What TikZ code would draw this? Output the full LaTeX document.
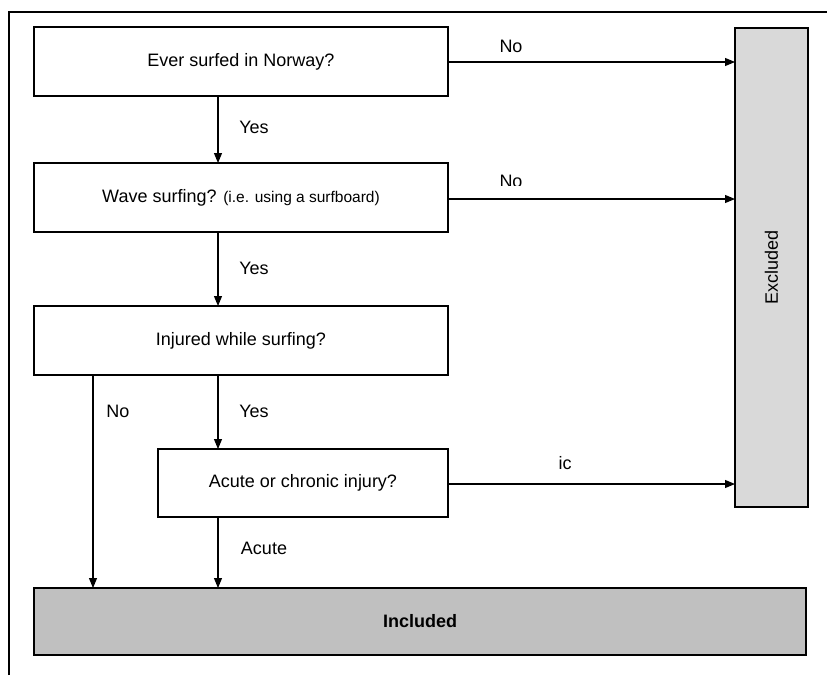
\documentclass[tikz,border=0pt]{standalone}
\usepackage{fontspec}
\setmainfont{Liberation Sans}
\usepackage{tikz}
\usetikzlibrary{arrows.meta}
\pgfdeclarelayer{edgelayer}
\pgfdeclarelayer{nodelayer}
\pgfsetlayers{edgelayer,nodelayer,main}
\definecolor{exgray}{HTML}{D9D9D9}
\definecolor{ingray}{HTML}{C0C0C0}
\tikzstyle{none}=[inner sep=0pt]
\tikzstyle{question}=[rectangle,fill=white,draw=black,line width=1.3,minimum width=414pt,minimum height=69pt,font=\fontsize{18}{21}\selectfont]
\tikzstyle{outcome}=[rectangle,draw=black,line width=1.3,font=\fontsize{18}{21}\selectfont]
\tikzstyle{lbl}=[inner sep=0pt,font=\fontsize{18}{21}\selectfont]
\tikzstyle{inarrow}=[-{Triangle[length=10pt,width=8pt]},line width=1.1]
\tikzstyle{frame}=[-,line width=1.2]

\begin{document}
\begin{tikzpicture}[x=1pt,y=-1pt]
	\useasboundingbox (0,0) rectangle (827,675);
	\begin{pgfonlayer}{nodelayer}
		\node [style=question] (q1) at (241, 61.5) {Ever surfed in Norway?};
		\node [style=question] (q2) at (241, 197.5) {Wave surfing? {\fontsize{15.5}{18}\selectfont(i.e. using a surfboard)}};
		\node [style=question] (q3) at (241, 340.5) {Injured while surfing?};
		\node [style=question, minimum width=290pt, minimum height=68pt] (q4) at (303, 483) {Acute or chronic injury?};

		\node [style=outcome, fill=exgray, minimum width=73pt, minimum height=479pt] (ex) at (771.5, 267.5) {};
		\node [style=lbl, rotate=90] (extext) at (771.5, 267.5) {Excluded};
		\node [style=outcome, fill=ingray, minimum width=772pt, minimum height=67pt] (in) at (420, 621.5) {\textbf{Included}};

		\node [style=none] (q1b) at (218, 96) {};
		\node [style=none] (q2t) at (218, 163) {};
		\node [style=none] (q2b) at (218, 232) {};
		\node [style=none] (q3t) at (218, 306) {};
		\node [style=none] (q3b) at (218, 375) {};
		\node [style=none] (q3bl) at (93, 375) {};
		\node [style=none] (q4t) at (218, 449) {};
		\node [style=none] (q4b) at (218, 517) {};
		\node [style=none] (inl) at (93, 588) {};
		\node [style=none] (inr) at (218, 588) {};
		\node [style=none] (ex1) at (735, 62) {};
		\node [style=none] (ex2) at (735, 199) {};
		\node [style=none] (ex4) at (735, 484) {};

		\node [style=lbl] (no1) at (511, 46) {No};
		\begin{scope}
			\clip (480, 160) rectangle (560, 185);
			\node [style=lbl] (no2) at (511, 181) {No};
		\end{scope}
		\node [style=lbl] (yes1) at (254, 127) {Yes};
		\node [style=lbl] (yes2) at (254, 268) {Yes};
		\node [style=lbl] (yes3) at (254, 411) {Yes};
		\node [style=lbl] (no3) at (118, 411) {No};
		\node [style=lbl] (ic) at (565, 463) {ic};
		\node [style=lbl] (acute) at (264, 548) {Acute};

		\node [style=none] (ftl) at (9, 12) {};
		\node [style=none] (fbl) at (9, 675) {};
		\node [style=none] (ftr) at (827, 12) {};
	\end{pgfonlayer}
	\begin{pgfonlayer}{edgelayer}
		\draw [style=inarrow] (q1b.center) to (q2t.center);
		\draw [style=inarrow] (q2b.center) to (q3t.center);
		\draw [style=inarrow] (q3b.center) to (q4t.center);
		\draw [style=inarrow] (q3bl.center) to (inl.center);
		\draw [style=inarrow] (q4b.center) to (inr.center);
		\draw [style=inarrow] (q1.east |- ex1) to (ex1.center);
		\draw [style=inarrow] (q2.east |- ex2) to (ex2.center);
		\draw [style=inarrow] (q4.east |- ex4) to (ex4.center);
		\draw [style=frame] (fbl.center) to (ftl.center) to (ftr.center);
	\end{pgfonlayer}
\end{tikzpicture}
\end{document}
